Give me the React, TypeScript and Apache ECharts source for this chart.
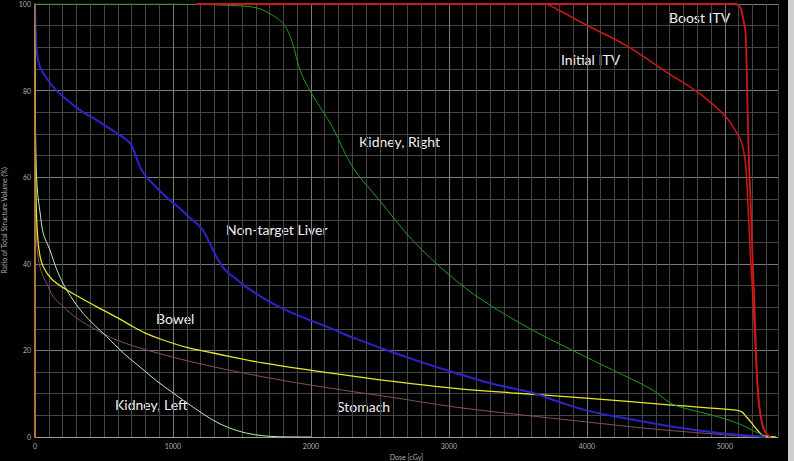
import React, { useEffect, useRef } from "react";
import * as echarts from "echarts";

const xTickLabels = [0, 1000, 2000, 3000, 4000, 5000];
const yTickLabels = [0, 20, 40, 60, 80, 100];

const boostItv: number[][] = [
  [1170, 100], [5077, 100], [5110, 99.3], [5125, 97.8], [5140, 95.5], [5150, 93.3], [5158, 85],
  [5165, 75], [5175, 63], [5186, 54.7], [5200, 42], [5215, 30], [5232, 15], [5250, 7],
  [5275, 2.5], [5300, 0.8], [5330, 0],
];
const initialItv: number[][] = [
  [1170, 100], [3690, 100], [3800, 98.5], [3992, 95.2], [4281, 90.5], [4571, 84.4], [4812, 79.4],
  [5005, 74], [5101, 69.4], [5130, 67], [5150, 63], [5165, 55], [5185, 42], [5205, 31],
  [5225, 18], [5245, 8], [5270, 3], [5300, 0.8], [5330, 0],
];
const kidneyRight: number[][] = [
  [0, 100], [1000, 100], [1200, 99.9], [1400, 99.7], [1556, 99.4], [1630, 98.9], [1700, 97.8],
  [1773, 96.3], [1820, 94.5], [1850, 92.5], [1880, 89.5], [1910, 85.8], [1950, 82.5], [2012, 79],
  [2080, 75.5], [2156, 71.6], [2301, 62.4], [2496, 54.7], [2735, 45.5], [3000, 37.5], [3243, 31.6],
  [3605, 24.7], [3992, 18.5], [4250, 14.5], [4474, 10.9], [4620, 7.6], [4800, 5.9], [4957, 4.6],
  [5123, 2.8], [5200, 1.5], [5246, 0.9], [5294, 0],
];
const nonTargetLiver: number[][] = [
  [0, 100], [2, 97], [5, 94], [12, 89.5], [30, 86], [60, 84], [157, 80], [326, 75.5], [446, 73.2],
  [591, 70.2], [640, 69.2], [690, 67.8], [725, 65.5], [760, 62.4], [790, 60.8], [830, 59.3],
  [900, 57], [977, 54.7], [1060, 52.5], [1122, 50.6], [1170, 49.4], [1216, 47.8], [1250, 45.8],
  [1290, 43.2], [1330, 40.8], [1360, 39.3], [1400, 37.9], [1450, 36.7], [1532, 34.6],
  [1650, 32.2], [1773, 30], [1950, 27.5], [2135, 25.2], [2300, 23], [2545, 20.1], [2800, 17.3],
  [3026, 15], [3300, 12.4], [3605, 10.2], [3800, 8.1], [3992, 6.2], [4250, 4.5], [4474, 3.2],
  [4700, 2], [4957, 0.9], [5150, 0.4], [5294, 0],
];
const bowel: number[][] = [
  [0, 100], [2, 75], [5, 60], [10, 52], [20, 46], [35, 42], [60, 39.3], [120, 36.5], [229, 34],
  [446, 30.1], [600, 27.5], [687, 25.9], [800, 24], [928, 22.4], [1100, 20.7], [1290, 19.4],
  [1652, 17.1], [2135, 14.8], [2500, 13.2], [3026, 11.3], [3500, 10.1], [3992, 9], [4595, 7.4],
  [5080, 6.2], [5123, 5.8], [5160, 4.5], [5195, 3.2], [5230, 1.8], [5268, 0.5], [5300, 0.2], [5369, 0],
];
const stomach: number[][] = [
  [0, 100], [2, 70], [5, 55], [12, 45], [30, 40], [60, 37], [85, 35.5], [130, 32.5], [205, 30.1],
  [300, 27.5], [446, 24.7], [600, 22.3], [808, 20.1], [1170, 17.1], [1652, 13.9], [2135, 11.3],
  [2600, 9.1], [3026, 7], [3500, 5.2], [3992, 3.5], [4400, 2.1], [4717, 1.2], [5000, 0.5], [5195, 0],
];
const kidneyLeft: number[][] = [
  [0, 100], [2, 80], [5, 68], [10, 61], [20, 56], [36, 52], [60, 47], [108, 43.2], [160, 38.5],
  [229, 34], [350, 28.5], [519, 23.2], [640, 19.4], [760, 16.2], [880, 13], [1000, 10.2],
  [1150, 6.8], [1290, 3.9], [1400, 2.2], [1532, 0.9], [1650, 0.3], [1773, 0.05], [2000, 0],
];

const labelFont = "Lato, 'Noto Sans', sans-serif";

export default function App() {
  const ref = useRef<HTMLDivElement>(null);
  useEffect(() => {
    document.body.style.margin = "0";
    document.body.style.background = "#000";
    const chart = echarts.init(ref.current!, undefined, { renderer: "svg" });
    const line = (name: string, data: number[][], color: string, width: number, extra: any = {}) => ({
      name,
      type: "line",
      data,
      showSymbol: false,
      smooth: 0.35,
      lineStyle: { color, width },
      emphasis: { disabled: true },
      ...extra,
    });
    const annot = (text: string, left: number, top: number) => ({
      type: "text",
      left,
      top,
      style: { text, fill: "#f2f2f2", font: `14px ${labelFont}` },
    });
    chart.setOption({
      animation: false,
      backgroundColor: "#000",
      grid: { left: 35, right: 16, top: 4, bottom: 24, containLabel: false, outerBoundsMode: "none" },
      xAxis: {
        type: "value",
        min: 0,
        max: 5385,
        interval: 100,
        name: "Dose [cGy]",
        nameLocation: "middle",
        nameGap: 9,
        nameTextStyle: { color: "#b0b0b0", fontSize: 7, fontFamily: labelFont },
        axisLine: { lineStyle: { color: "#a0a0a0", width: 1 } },
        axisTick: { show: false },
        axisLabel: {
          color: "#b0b0b0",
          fontSize: 7,
          fontFamily: labelFont,
          margin: 5,
          showMaxLabel: false,
          formatter: (v: number) => (xTickLabels.includes(v) ? String(v) : ""),
        },
        splitLine: {
          show: true,
          lineStyle: {
            color: ["#7a7a7a", "#444", "#444", "#444", "#444", "#444", "#444", "#444", "#444", "#444"],
            width: 1,
          },
        },
      },
      yAxis: {
        type: "value",
        min: 0,
        max: 100,
        interval: 5,
        name: "Ratio of Total Structure Volume (%)",
        nameLocation: "middle",
        nameGap: 25,
        nameTextStyle: { color: "#b0b0b0", fontSize: 7, fontFamily: labelFont },
        axisLine: { show: true, lineStyle: { color: "#b57a3c", width: 1.5 } },
        axisTick: { show: false },
        axisLabel: {
          color: "#b0b0b0",
          fontSize: 7,
          fontFamily: labelFont,
          margin: 4,
          formatter: (v: number) => (yTickLabels.includes(v) ? String(v) : ""),
        },
        splitLine: {
          show: true,
          lineStyle: { color: ["#7a7a7a", "#444", "#444", "#444"], width: 1 },
        },
      },
      series: [
        line("Stomach", stomach, "#84505c", 1),
        line("Kidney, Left", kidneyLeft, "#b8f0b0", 1),
        line("Bowel", bowel, "#e6e62a", 1.3),
        line("Non-target Liver", nonTargetLiver, "#2c24c8", 2),
        line("Kidney, Right", kidneyRight, "#1e9a1e", 1),
        line("Initial ITV", initialItv, "#cc1818", 1.5),
        line("Boost ITV", boostItv, "#cc1818", 1.8, {
          markLine: {
            silent: true,
            symbol: "none",
            label: { show: false },
            lineStyle: { color: "#b57a3c", width: 1.5, type: "solid" },
            emphasis: { disabled: true },
            data: [{ xAxis: 0 }],
          },
        }),
      ],
      graphic: [
        annot("Boost ITV", 669, 10),
        annot("Initial ITV", 561, 52),
        annot("Kidney, Right", 359, 134),
        annot("Non-target Liver", 226, 222),
        annot("Bowel", 156, 311),
        annot("Kidney, Left", 115, 397),
        annot("Stomach", 337, 399),
        { type: "rect", left: 788, top: 0, shape: { width: 6, height: 461 }, style: { fill: "#cfcfcf" } },
      ],
    });
    return () => chart.dispose();
  }, []);
  return <div ref={ref} style={{ width: 794, height: 461 }} />;
}
